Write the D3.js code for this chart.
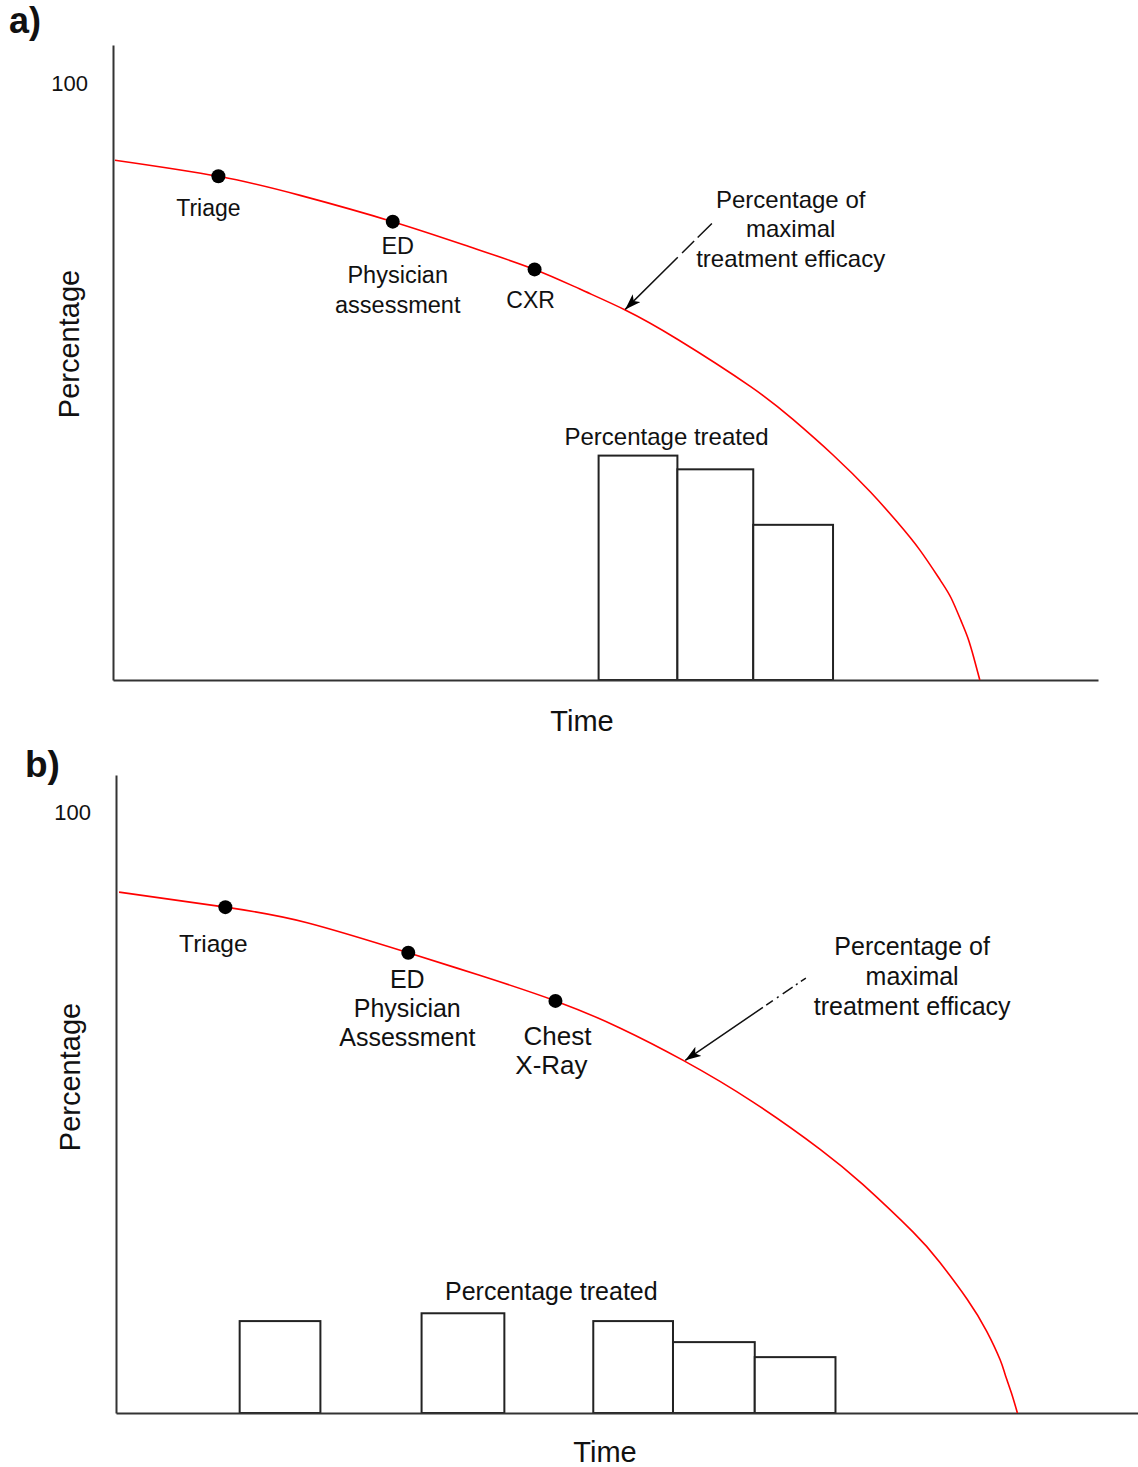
<!DOCTYPE html>
<html><head><meta charset="utf-8">
<script src="https://cdn.jsdelivr.net/npm/d3@7"></script>
<style>
body{margin:0;background:#fff}
text{font-family:Arial,"Liberation Sans",sans-serif;fill:#111}
</style>
</head><body>
<svg id="chart" width="1138" height="1467"></svg>
<script>
// ---------- Panel a data ----------
const curveTimeA  = [0.2,10.7,19.0,28.4,36.2,42.8,47.4,52.0,57.3,64.7,69.0,73.1,76.9,79.6,81.9,84.0,85.1,86.1,86.8,87.4,88.0];
const curveValueA = [87.1,84.4,81.2,76.8,72.6,68.8,65.5,62.0,57.1,49.2,43.7,37.7,31.5,26.5,21.8,16.7,13.7,9.9,7.0,3.7,0];
const milestoneTimeA  = [10.7,28.4,42.8];
const milestoneValueA = [84.4,76.8,68.8];
const milestoneLabelsA = [["Triage"],["ED","Physician","assessment"],["CXR"]];
const barStartA = [49.3,57.3,65.0];
const barEndA   = [57.3,65.0,73.1];
const barValueA = [37.6,35.3,26.0];

// ---------- Panel b data ----------
const curveTimeB  = [0.3,10.7,18.7,28.6,35.5,43.0,49.3,55.5,62.3,68.9,73.1,78.0,80.6,83.3,85.2,86.5,87.0,87.6,88.2];
const curveValueB = [86.7,84.2,81.6,76.6,72.9,68.6,64.1,58.7,51.8,43.9,38.0,30.1,25.1,18.9,13.6,8.9,6.4,3.4,0];
const milestoneTimeB  = [10.7,28.6,43.0];
const milestoneValueB = [84.2,76.6,68.6];
const milestoneLabelsB = [["Triage"],["ED","Physician","Assessment"],["Chest","X-Ray"]];
const barStartB = [12.1,29.9,46.7,54.5,62.5];
const barEndB   = [20.0,38.0,54.5,62.5,70.4];
const barValueB = [15.3,16.6,15.3,11.8,9.3];

// ---------- Shared text ----------
const yTickValues = [100];
const curveAnnotation = ["Percentage of","maximal","treatment efficacy"];
const barsLabel = "Percentage treated";
const xTitle = "Time";
const yTitle = "Percentage";
const panelTags = ["a)","b)"];

const svg = d3.select("#chart");
svg.append("defs").append("marker")
  .attr("id","arrowhead").attr("viewBox","0 0 16 11")
  .attr("refX",16).attr("refY",5.5)
  .attr("markerWidth",16).attr("markerHeight",11)
  .attr("markerUnits","userSpaceOnUse")
  .attr("orient","auto")
  .append("path").attr("d","M0,0 L16,5.5 L0,11 L4,5.5 Z").attr("fill","#000");

function drawPanel(cfg){
  const x = d3.scaleLinear().domain([0,100]).range(cfg.xRange);
  const y = d3.scaleLinear().domain([0,cfg.yMax]).range(cfg.yRange);
  const g = svg.append("g");

  // bars
  const bars = cfg.barStart.map((s,i)=>({s, e:cfg.barEnd[i], v:cfg.barValue[i]}));
  g.selectAll("rect.bar").data(bars).join("rect")
    .attr("x",d=>x(d.s)).attr("y",d=>y(d.v))
    .attr("width",d=>x(d.e)-x(d.s)).attr("height",d=>y(0)-y(d.v))
    .attr("fill","#fff").attr("stroke","#222").attr("stroke-width",2);

  // axes
  const ya = g.append("g").attr("transform",`translate(${cfg.xRange[0]},0)`)
    .call(d3.axisLeft(y).tickValues(yTickValues).tickSize(0).tickSizeOuter(0).tickPadding(cfg.tickPad));
  ya.select(".domain").attr("stroke","#333").attr("stroke-width",2);
  ya.selectAll(".tick text").attr("font-size",22).attr("font-family","Arial, 'Liberation Sans', sans-serif").attr("fill","#111");
  const xa = g.append("g").attr("transform",`translate(0,${y(0)})`)
    .call(d3.axisBottom(x).tickValues([]).tickSizeOuter(0));
  xa.select(".domain").attr("stroke","#333").attr("stroke-width",2);

  // curve
  const pts = cfg.curveTime.map((t,i)=>[t,cfg.curveValue[i]]);
  g.append("path").datum(pts)
    .attr("d",d3.line().x(d=>x(d[0])).y(d=>y(d[1])).curve(d3.curveNatural))
    .attr("fill","none").attr("stroke","#ff0000").attr("stroke-width",1.6);

  // milestones
  cfg.milestoneTime.forEach((t,i)=>{
    g.append("circle").attr("cx",x(t)).attr("cy",y(cfg.milestoneValue[i])).attr("r",7).attr("fill","#000");
    const lab = cfg.labelOffsets[i];
    const txt = g.append("text").attr("text-anchor","middle").attr("font-size",lab.fs);
    cfg.milestoneLabels[i].forEach((line,j)=>{
      txt.append("tspan").attr("x",x(t)+lab.dx[j]).attr("y",y(cfg.milestoneValue[i])+lab.dy+j*lab.lh).text(line);
    });
  });

  // annotation arrow
  g.append("line")
    .attr("x1",x(cfg.arrowFrom[0])).attr("y1",y(cfg.arrowFrom[1]))
    .attr("x2",x(cfg.arrowTo[0])).attr("y2",y(cfg.arrowTo[1]))
    .attr("stroke","#111").attr("stroke-width",1.5)
    .attr("stroke-dasharray",cfg.dash).attr("marker-end","url(#arrowhead)");
  const at = g.append("text").attr("text-anchor","middle").attr("font-size",cfg.annFs);
  curveAnnotation.forEach((line,j)=>{
    at.append("tspan").attr("x",x(cfg.annPos[0])).attr("y",y(cfg.annPos[1])+j*cfg.annLh).text(line);
  });

  // bars label
  g.append("text").attr("text-anchor","middle").attr("font-size",cfg.annFs)
    .attr("x",x(cfg.barsLabelPos[0])).attr("y",y(cfg.barsLabelPos[1])).text(barsLabel);

  // titles
  g.append("text").attr("text-anchor","middle").attr("font-size",29)
    .attr("x",cfg.xTitlePos[0]).attr("y",cfg.xTitlePos[1]).text(xTitle);
  g.append("text").attr("text-anchor","middle").attr("font-size",29)
    .attr("transform",`translate(${cfg.yTitlePos[0]},${cfg.yTitlePos[1]}) rotate(-90)`).text(yTitle);
  g.append("text").attr("font-size",cfg.tagFs).attr("font-weight","bold")
    .attr("x",cfg.tagPos[0]).attr("y",cfg.tagPos[1]).text(cfg.tag);
}

drawPanel({
  xRange:[113,1098], yRange:[680,45], yMax:106.4, tickPad:25,
  curveTime:curveTimeA, curveValue:curveValueA,
  milestoneTime:milestoneTimeA, milestoneValue:milestoneValueA, milestoneLabels:milestoneLabelsA,
  labelOffsets:[{dx:[-10],dy:40,lh:30,fs:23},{dx:[5,5,5],dy:32,lh:29.5,fs:23.5},{dx:[-4],dy:39,lh:30,fs:23}],
  barStart:barStartA, barEnd:barEndA, barValue:barValueA,
  arrowFrom:[60.8,76.5], arrowTo:[52.0,62.1], dash:"20,5,17,6,300",
  annPos:[68.8,79.1], annLh:29.5, annFs:24,
  barsLabelPos:[56.2,39.4],
  xTitlePos:[582,731], yTitlePos:[79,344],
  tag:panelTags[0], tagPos:[9,33], tagFs:36
});

drawPanel({
  xRange:[116,1138], yRange:[1413,775], yMax:106.2, tickPad:25,
  curveTime:curveTimeB, curveValue:curveValueB,
  milestoneTime:milestoneTimeB, milestoneValue:milestoneValueB, milestoneLabels:milestoneLabelsB,
  labelOffsets:[{dx:[-12],dy:45,lh:30,fs:24.5},{dx:[-1,-1,-1],dy:35,lh:29,fs:25},{dx:[2,-4],dy:44,lh:29,fs:26}],
  barStart:barStartB, barEnd:barEndB, barValue:barValueB,
  arrowFrom:[67.5,72.4], arrowTo:[55.7,58.7], dash:"6,4,2,4,12,5,2,5,8,4,300",
  annPos:[77.9,76.2], annLh:30, annFs:25,
  barsLabelPos:[42.6,18.8],
  xTitlePos:[605,1462], yTitlePos:[80,1077],
  tag:panelTags[1], tagPos:[25,777], tagFs:37
});
</script>
</body></html>
